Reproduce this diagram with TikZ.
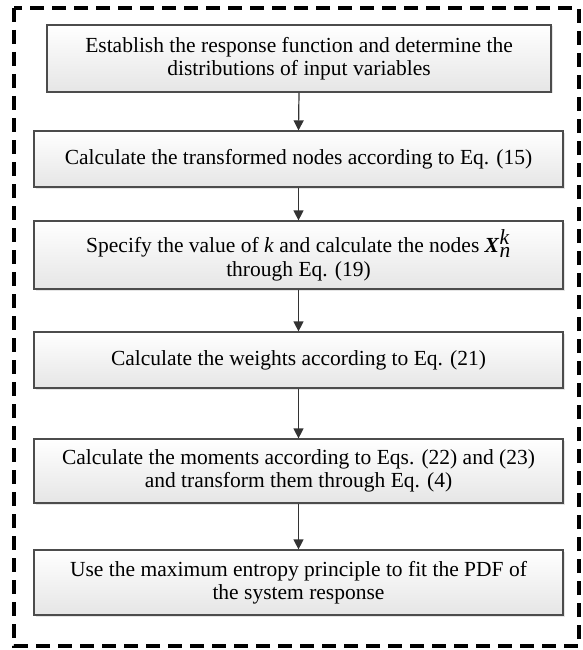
\documentclass[tikz,border=0pt]{standalone}
\usepackage{fontspec}
\setmainfont{Liberation Serif}
\usetikzlibrary{arrows.meta,shadows}
\begin{document}
\begin{tikzpicture}[x=1pt,y=-1pt,
  stepbox/.style={draw=black!70, line width=1.2pt, top color=white, bottom color=black!10,
    align=center, font=\fontsize{21.5}{23.5}\selectfont, inner sep=0pt,
    drop shadow={shadow xshift=1.5pt, shadow yshift=-1.5pt, opacity=0.25, fill=black!40}},
  flow/.style={draw=black!80, line width=1.2pt, -{Triangle[length=10pt,width=10pt]}},
  frame/.style={draw=black, line width=3.2pt, dash pattern=on 14pt off 8pt}
]
\useasboundingbox (0,0) rectangle (582,650);
\draw[frame] (14,8) rectangle (579,646);
\node[stepbox, minimum width=504pt, minimum height=67pt] (b1) at (299,58.5)
  {Establish the response function and determine the\\distributions of input variables};
\node[stepbox, minimum width=529pt, minimum height=56pt] (b2) at (298.5,159)
  {Calculate the transformed nodes according to Eq. (15)};
\node[stepbox, minimum width=529pt, minimum height=68pt] (b3) at (298.5,255)
  {Specify the value of \textit{k} and calculate the nodes $\textbf{\textit{X}}^{\textit{k}}_{\textit{n}}$\\through Eq. (19)};
\node[stepbox, minimum width=529pt, minimum height=56pt] (b4) at (298.5,360)
  {Calculate the weights according to Eq. (21)};
\node[stepbox, minimum width=529pt, minimum height=64pt] (b5) at (298.5,471)
  {Calculate the moments according to Eqs. (22) and (23)\\and transform them through Eq. (4)};
\node[stepbox, minimum width=529pt, minimum height=65pt] (b6) at (298.5,582.5)
  {Use the maximum entropy principle to fit the PDF of\\the system response};
\draw[flow] (b1.south) -- (b2.north);
\draw[flow] (b2.south) -- (b3.north);
\draw[flow] (b3.south) -- (b4.north);
\draw[flow] (b4.south) -- (b5.north);
\draw[flow] (b5.south) -- (b6.north);
\end{tikzpicture}
\end{document}
